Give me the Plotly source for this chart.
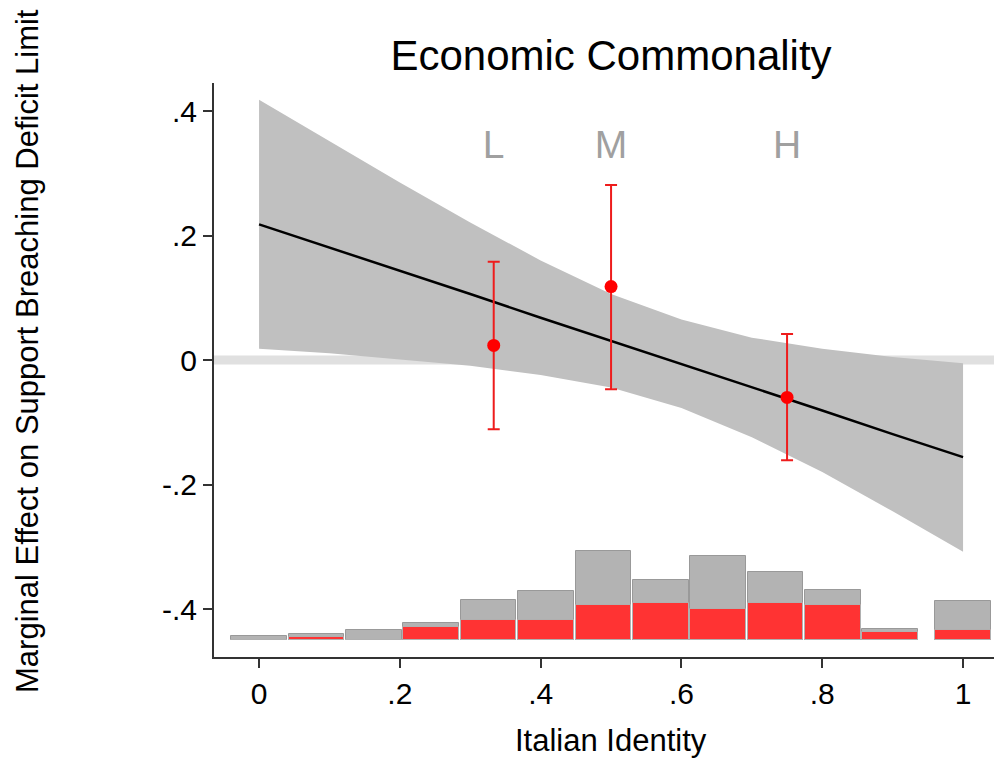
import plotly.graph_objects as go

# --- data ---
x_grid = [0.0, 0.1, 0.2, 0.3, 0.4, 0.5, 0.6, 0.7, 0.8, 0.9, 1.0]
me_line = [0.218, 0.181, 0.143, 0.106, 0.068, 0.031, -0.006, -0.044, -0.081, -0.119, -0.156]
ci_upper = [0.418, 0.351, 0.285, 0.221, 0.160, 0.106, 0.065, 0.036, 0.018, 0.005, -0.005]
ci_lower = [0.018, 0.011, 0.001, -0.009, -0.024, -0.044, -0.077, -0.124, -0.180, -0.243, -0.308]

group_labels = ["L", "M", "H"]
group_x = [1/3, 0.5, 0.75]
group_est = [0.0235, 0.118, -0.060]
group_hi = [0.158, 0.281, 0.042]
group_lo = [-0.111, -0.047, -0.161]

hist_x = [0.0, 0.0815, 0.163, 0.2445, 0.326, 0.4075, 0.489, 0.5705, 0.652, 0.7335, 0.815, 0.8965, 1.0]
hist_total = [0.0064, 0.0096, 0.016, 0.0278, 0.0643, 0.0792, 0.143, 0.0964, 0.1354, 0.1088, 0.0814, 0.0182, 0.0622]
hist_red = [0.0, 0.0059, 0.0, 0.0204, 0.0321, 0.0321, 0.0562, 0.0594, 0.0498, 0.0594, 0.0562, 0.0129, 0.0156]
hist_base = -0.45

x_ticks = [0, 0.2, 0.4, 0.6, 0.8, 1]
x_ticktext = ["0", ".2", ".4", ".6", ".8", "1"]
y_ticks = [-0.4, -0.2, 0, 0.2, 0.4]
y_ticktext = ["-.4", "-.2", "0", ".2", ".4"]

FONT = "Liberation Sans, Arial, sans-serif"

# figure sits at an 8px page offset, so size/margins are compensated;
# the plot runs past the right edge of the window like the cropped reference
OFF = 8
W, H = 1002, 758 - OFF
ML, MT, MB = 214 - OFF, 83 - OFF, 101
PW = W - ML
PH = H - MT - MB
X_MIN = -0.064
X_MAX = X_MIN + PW / 704.0  # 704 px per unit as in the reference

fig = go.Figure()

# confidence band
fig.add_trace(go.Scatter(
    x=x_grid + x_grid[::-1], y=ci_upper + ci_lower[::-1],
    fill="toself", fillcolor="#c0c0c0", line=dict(width=0),
    mode="lines", hoverinfo="skip", showlegend=False))

# marginal effect line
fig.add_trace(go.Scatter(
    x=x_grid, y=me_line, mode="lines",
    line=dict(color="black", width=2.5), showlegend=False))

# histograms
fig.add_trace(go.Bar(
    x=hist_x, y=hist_total, base=hist_base, width=0.079,
    marker=dict(color="#b3b3b3", line=dict(color="#999999", width=1)),
    showlegend=False))
fig.add_trace(go.Bar(
    x=hist_x, y=hist_red, base=hist_base, width=0.079,
    marker=dict(color="#ff3333", line=dict(color="#b0b0b0", width=1)),
    showlegend=False))

# group estimates with error bars
plus = [h - e for h, e in zip(group_hi, group_est)]
minus = [e - l for e, l in zip(group_est, group_lo)]
fig.add_trace(go.Scatter(
    x=group_x, y=group_est, mode="markers",
    marker=dict(color="#ff0000", size=13),
    error_y=dict(type="data", symmetric=False, array=plus, arrayminus=minus,
                 color="#ee1c1c", thickness=2, width=6),
    showlegend=False))

# L / M / H labels
fig.add_trace(go.Scatter(
    x=group_x, y=[0.34] * 3, mode="text", text=group_labels,
    textfont=dict(family=FONT, size=39, color="#a0a0a0"),
    showlegend=False))

# zero reference line
fig.add_shape(type="line", xref="paper", yref="y", x0=0, x1=1, y0=0, y1=0,
              line=dict(color="#e0e0e0", width=9), layer="below")

# axis titles as annotations (exact placement, page px converted to paper coords)
fig.add_annotation(text="Italian Identity", xref="paper", yref="paper",
                   x=(611 - 214) / PW, y=-(740 - 657) / PH,
                   xanchor="center", yanchor="middle", showarrow=False,
                   font=dict(family=FONT, size=31, color="black"))
fig.add_annotation(text="Marginal Effect on Support Breaching Deficit Limit",
                   xref="paper", yref="paper",
                   x=-(214 - 27) / PW, y=(657 - 351) / PH,
                   xanchor="center", yanchor="middle", textangle=-90, showarrow=False,
                   font=dict(family=FONT, size=31, color="black"))

fig.update_layout(
    width=W, height=H,
    margin=dict(l=ML, r=0, t=MT, b=MB, autoexpand=False),
    paper_bgcolor="white", plot_bgcolor="white",
    barmode="overlay", bargap=0,
    font=dict(family=FONT, color="black"),
    title=dict(text="Economic Commonality", x=(611 - OFF) / W, xanchor="center",
               y=1 - (55 - OFF) / H, yanchor="middle",
               font=dict(family=FONT, size=42, color="black")),
    xaxis=dict(range=[X_MIN, X_MAX], tickvals=x_ticks, ticktext=x_ticktext,
               showgrid=False, zeroline=False, showline=True, linecolor="#333333",
               linewidth=2, ticks="outside", ticklen=9, tickwidth=1.5, tickcolor="#333333",
               tickfont=dict(size=30), automargin=False),
    yaxis=dict(range=[-0.477, 0.445], tickvals=y_ticks, ticktext=y_ticktext,
               showgrid=False, zeroline=False, showline=True, linecolor="#333333",
               linewidth=2, ticks="outside", ticklen=9, tickwidth=1.5, tickcolor="#333333",
               tickfont=dict(size=30), tickangle=0, automargin=False),
)

fig.write_html("out.html")
